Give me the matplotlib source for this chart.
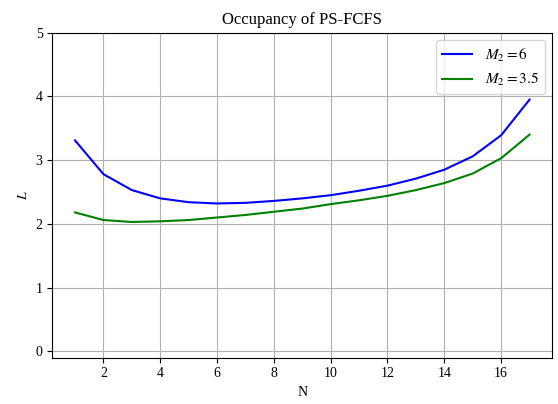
import matplotlib
matplotlib.use("Agg")
import matplotlib.pyplot as plt

plt.rcParams['font.family'] = ['Liberation Serif', 'DejaVu Serif']
plt.rcParams['mathtext.fontset'] = 'stix'

N = list(range(1, 18))
L_m6 = [3.31, 2.78, 2.53, 2.40, 2.34, 2.32, 2.33, 2.36, 2.40, 2.45, 2.52, 2.60, 2.71, 2.85, 3.06, 3.39, 3.95]
L_m35 = [2.18, 2.06, 2.03, 2.04, 2.06, 2.10, 2.14, 2.19, 2.24, 2.31, 2.37, 2.44, 2.53, 2.64, 2.79, 3.03, 3.40]
labels = [r'$M_2 = 6$', r'$M_2 = 3.5$']

fig = plt.figure(figsize=(5.58, 4.04), dpi=100)
ax = fig.add_axes([0.0937, 0.1146, 0.896, 0.8045])
ax.plot(N, L_m6, color='blue', lw=1.5, label=labels[0])
ax.plot(N, L_m35, color='green', lw=1.5, label=labels[1])
ax.set_xlim(0.2, 17.8)
ax.set_ylim(-0.1, 5)
ax.set_xticks([2, 4, 6, 8, 10, 12, 14, 16])
ax.set_yticks([0, 1, 2, 3, 4, 5])
ax.grid(True, color='#b0b0b0', lw=0.8)
ax.set_xlabel('N', fontsize=10)
ax.set_ylabel(r'$L$', fontsize=10)
ax.set_title('Occupancy of PS-FCFS', fontsize=12)
ax.tick_params(labelsize=10)
ax.legend(loc='upper right', fontsize=11)
fig.savefig('out.png', dpi=100)
